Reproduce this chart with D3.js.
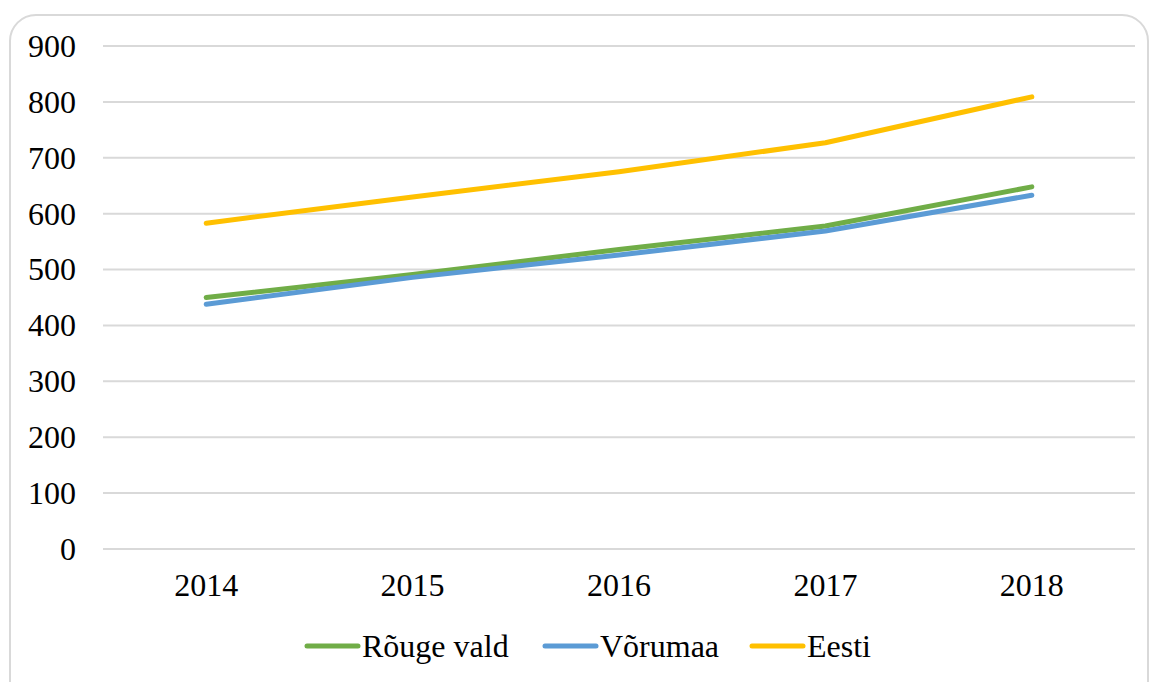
<!DOCTYPE html>
<html>
<head>
<meta charset="utf-8">
<script src="https://cdn.jsdelivr.net/npm/d3@7"></script>
<style>
  body { margin: 0; background: #fff; }
  text { font-family: "Liberation Serif", "Times New Roman", serif; fill: #000; }
</style>
</head>
<body>
<svg id="chart" width="1151" height="682"></svg>
<script>
var years = ["2014", "2015", "2016", "2017", "2018"];
var rouge = [450, 491, 536, 578, 648];
var vorumaa = [438, 486, 526, 569, 633];
var eesti = [583, 630, 675, 727, 809];
var yTicks = [0, 100, 200, 300, 400, 500, 600, 700, 800, 900];
var seriesNames = ["Rõuge vald", "Võrumaa", "Eesti"];
var seriesColors = ["#70ad47", "#5b9bd5", "#ffc000"];

var svg = d3.select("#chart");

// outer frame
svg.append("rect")
  .attr("x", 10).attr("y", 15)
  .attr("width", 1138).attr("height", 700)
  .attr("rx", 26).attr("ry", 26)
  .attr("fill", "none")
  .attr("stroke", "#d9d9d9")
  .attr("stroke-width", 2);

var plotLeft = 103, plotRight = 1135, plotTop = 46, plotBottom = 549;

var x = d3.scalePoint()
  .domain(years)
  .range([plotLeft, plotRight])
  .padding(0.5);

var y = d3.scaleLinear()
  .domain([0, 900])
  .range([plotBottom, plotTop]);

// gridlines
svg.append("g").selectAll("line")
  .data(yTicks).enter().append("line")
  .attr("x1", plotLeft).attr("x2", plotRight)
  .attr("y1", function(d){ return y(d); })
  .attr("y2", function(d){ return y(d); })
  .attr("stroke", "#d9d9d9")
  .attr("stroke-width", 2);

// y labels
svg.append("g").selectAll("text")
  .data(yTicks).enter().append("text")
  .attr("x", 76)
  .attr("y", function(d){ return y(d); })
  .attr("dy", "0.34em")
  .attr("text-anchor", "end")
  .style("font-size", "32px")
  .text(function(d){ return d; });

// x labels
svg.append("g").selectAll("text")
  .data(years).enter().append("text")
  .attr("x", function(d){ return x(d); })
  .attr("y", 596)
  .attr("text-anchor", "middle")
  .style("font-size", "32px")
  .text(function(d){ return d; });

var data = [rouge, vorumaa, eesti];

var line = d3.line()
  .x(function(d, i){ return x(years[i]); })
  .y(function(d){ return y(d); });

svg.append("g").selectAll("path")
  .data(data).enter().append("path")
  .attr("d", line)
  .attr("fill", "none")
  .attr("stroke", function(d, i){ return seriesColors[i]; })
  .attr("stroke-width", 5)
  .attr("stroke-linecap", "round")
  .attr("stroke-linejoin", "round");

// legend
var legendX = [307, 545, 752];
var legend = svg.append("g").selectAll("g")
  .data(seriesNames).enter().append("g")
  .attr("transform", function(d, i){ return "translate(" + legendX[i] + ",646)"; });

legend.append("line")
  .attr("x1", 0).attr("x2", 51)
  .attr("y1", 0).attr("y2", 0)
  .attr("stroke", function(d, i){ return seriesColors[i]; })
  .attr("stroke-width", 5)
  .attr("stroke-linecap", "round");

legend.append("text")
  .attr("x", 55)
  .attr("y", 0)
  .attr("dy", "0.34em")
  .style("font-size", "32px")
  .text(function(d){ return d; });
</script>
</body>
</html>
